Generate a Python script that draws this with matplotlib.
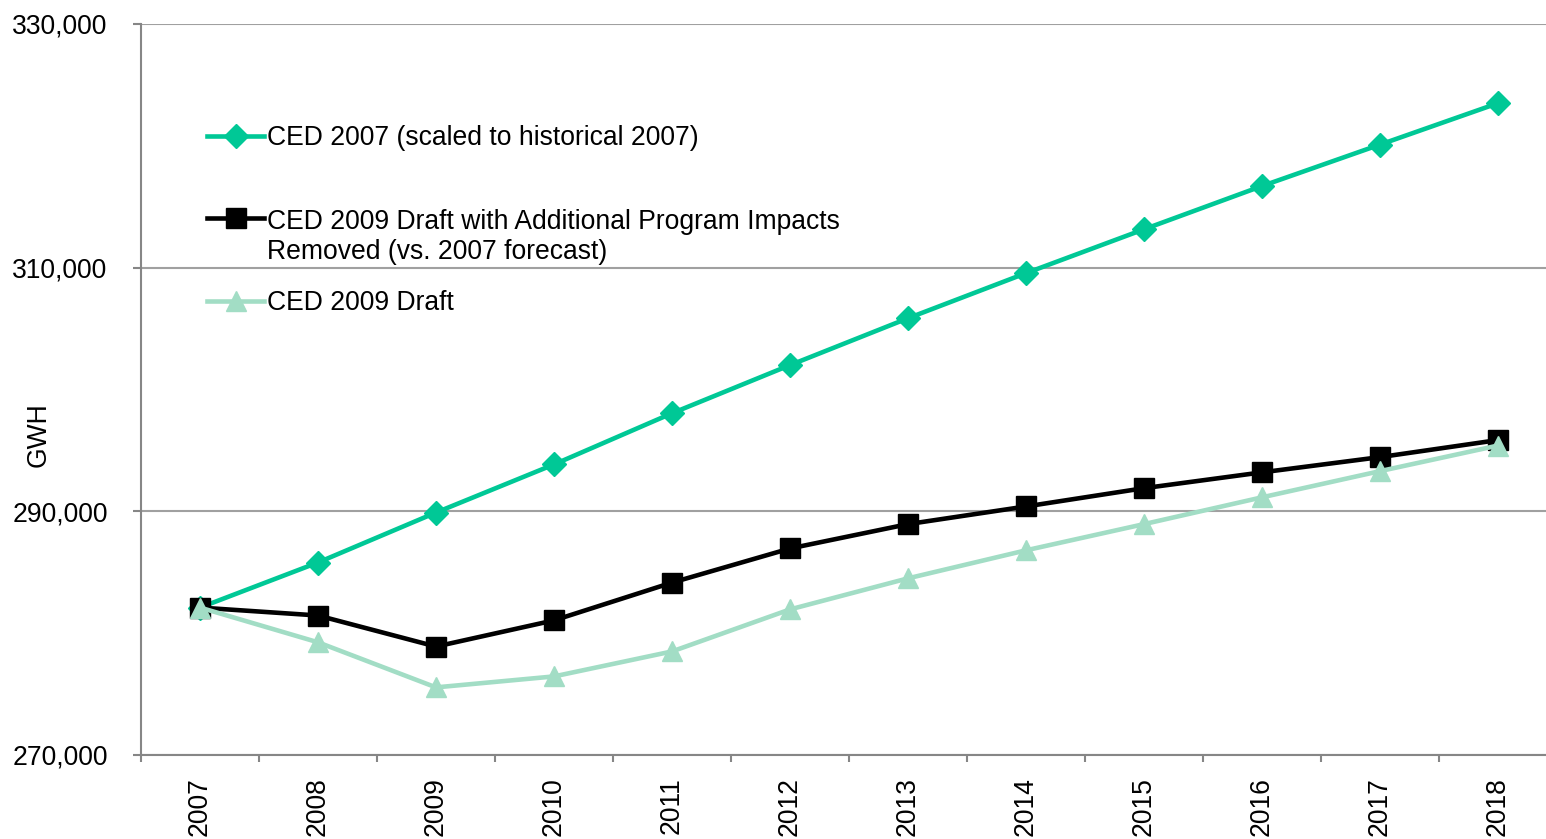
import matplotlib
matplotlib.use("Agg")
import matplotlib.pyplot as plt
from matplotlib.ticker import FuncFormatter, FixedLocator

plt.rcParams['font.family'] = ['Liberation Sans', 'DejaVu Sans']

# data
years = ['2007', '2008', '2009', '2010', '2011', '2012',
         '2013', '2014', '2015', '2016', '2017', '2018']
ced_2007 = [282100, 285800, 289900, 293850, 298050, 302000,
            305850, 309550, 313150, 316700, 320100, 323500]
ced_2009_adj = [282100, 281450, 278900, 281050, 284150, 286950,
                288950, 290400, 291900, 293200, 294450, 295850]
ced_2009 = [282100, 279250, 275550, 276450, 278500, 281950,
            284500, 286800, 288950, 291150, 293300, 295400]

labels = ['CED 2007 (scaled to historical 2007)',
          'CED 2009 Draft with Additional Program Impacts\nRemoved (vs. 2007 forecast)',
          'CED 2009 Draft']

FS = 19.1

fig = plt.figure(figsize=(15.46, 8.39), dpi=100)
ax = fig.add_axes([141 / 1546, 84 / 839, 1416 / 1546, 731 / 839])

x = list(range(len(years)))
l1, = ax.plot(x, ced_2007, color='#00C896', lw=3.3, marker='D', ms=12,
              label=labels[0], zorder=3)
l2, = ax.plot(x, ced_2009_adj, color='black', lw=3.3, marker='s', ms=14,
              label=labels[1], zorder=4)
l3, = ax.plot(x, ced_2009, color='#A2DDC5', lw=3.3, marker='^', ms=14,
              label=labels[2], zorder=5)

ax.set_xlim(-0.5, len(years) - 0.5)
ax.set_ylim(270000, 330000)
ax.set_yticks([270000, 290000, 310000, 330000])
ax.yaxis.set_major_formatter(FuncFormatter(lambda v, p: f'{int(v):,}'))
ax.grid(axis='y', color='#A0A0A0', lw=1.5)
ax.set_axisbelow(True)

ax.set_xticks(x)
ax.set_xticklabels(years, rotation=90)
ax.xaxis.set_minor_locator(FixedLocator([i - 0.5 for i in range(len(years) + 1)]))
ax.tick_params(axis='x', which='major', length=0, pad=16, labelsize=FS)
ax.tick_params(axis='x', which='minor', length=5, width=1.5, color='#868686')
ax.tick_params(axis='y', length=6, width=1.5, color='#868686', labelsize=FS, pad=18)

for s in ['top', 'right']:
    ax.spines[s].set_visible(False)
for s in ['left', 'bottom']:
    ax.spines[s].set_color('#868686')
    ax.spines[s].set_linewidth(1.5)

ax.set_ylabel('GWH', fontsize=FS)
ax.yaxis.set_label_coords(-0.063, 0.438)

# legend split in two so the spacing matches the original layout
leg_kw = dict(loc='upper left', bbox_transform=fig.transFigure, frameon=False,
              fontsize=FS, borderpad=0, borderaxespad=0, handlelength=2.15,
              handletextpad=0.1)
leg1 = ax.legend([l1, l2], labels[:2], bbox_to_anchor=(207 / 1546, 1 - 125 / 839),
                 labelspacing=2.18, **leg_kw)
entries = leg1._legend_handle_box.get_children()[0].get_children()
entries[1].align = 'top'
ax.add_artist(leg1)
ax.legend([l3], labels[2:], bbox_to_anchor=(207 / 1546, 1 - 290 / 839), **leg_kw)

fig.savefig('out.png', dpi=100)
